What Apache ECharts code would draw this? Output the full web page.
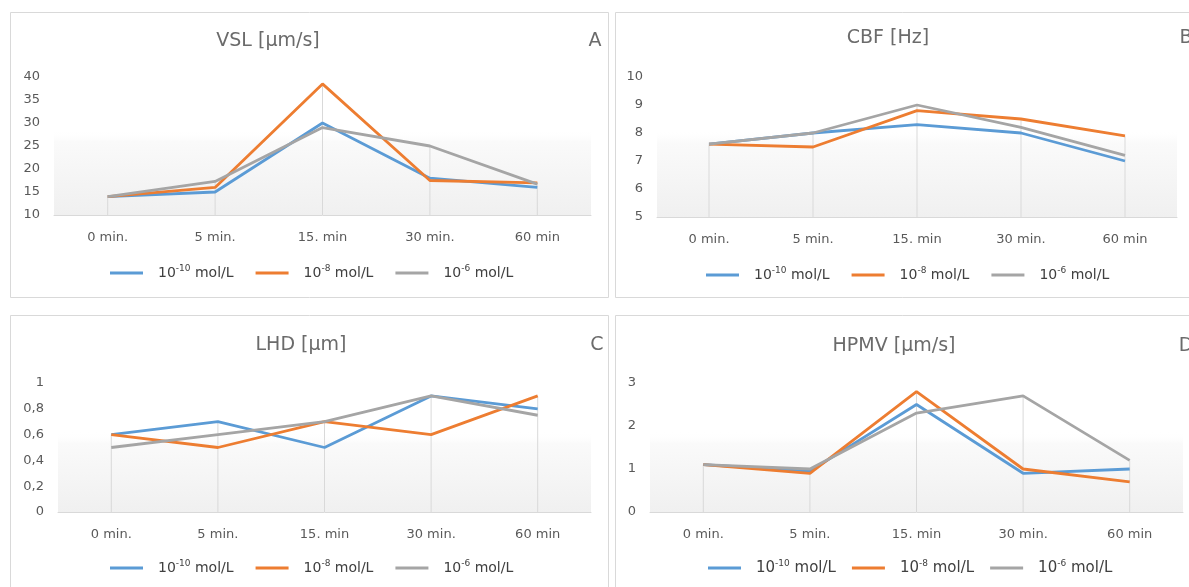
<!DOCTYPE html>
<html>
<head>
<meta charset="utf-8">
<script src="https://cdn.jsdelivr.net/npm/echarts@6/dist/echarts.min.js"></script>
<style>
  html, body { margin: 0; padding: 0; background: #ffffff; }
  #chart { width: 1189px; height: 587px; }
</style>
</head>
<body>
<div id="chart"></div>
<script>
// Sampling times shared by all four panels
const categories = ['0 min.', '5 min.', '15. min', '30 min.', '60 min'];
// Concentrations (the part after ^ is drawn as a superscript)
const seriesNames = ['10^-10 mol/L', '10^-8 mol/L', '10^-6 mol/L'];

// A: VSL [µm/s]
const vslLow  = [14, 15, 30, 18, 16];
const vslMid  = [14, 16, 38.5, 17.5, 17];
const vslHigh = [14, 17.3, 29, 25, 16.7];
const vslTicks = [10, 40, 5];

// B: CBF [Hz]
const cbfLow  = [7.6, 8.0, 8.3, 8.0, 7.0];
const cbfMid  = [7.6, 7.5, 8.8, 8.5, 7.9];
const cbfHigh = [7.6, 8.0, 9.0, 8.2, 7.2];
const cbfTicks = [5, 10, 1];

// C: LHD [µm]
const lhdLow  = [0.6, 0.7, 0.5, 0.9, 0.8];
const lhdMid  = [0.6, 0.5, 0.7, 0.6, 0.9];
const lhdHigh = [0.5, 0.6, 0.7, 0.9, 0.75];
const lhdTicks = [0, 1, 0.2];

// D: HPMV [µm/s]
const hpmvLow  = [1.1, 0.95, 2.5, 0.9, 1.0];
const hpmvMid  = [1.1, 0.9, 2.8, 1.0, 0.7];
const hpmvHigh = [1.1, 1.0, 2.3, 2.7, 1.2];
const hpmvTicks = [0, 3, 1];

const colors = ['#5b9bd5', '#ed7d31', '#a5a5a5'];
const FONT = 'DejaVu Sans';
const TEXT = '#595959';

const panels = [
  { title: 'VSL [µm/s]', letter: 'A', data: [vslLow, vslMid, vslHigh], ticks: vslTicks,
    box: [10.5, 12.5, 598, 285], grid: [54, 77, 537, 138], titleXY: [268, 41], letterXY: [595, 41],
    legendXY: [110, 264], legendFont: 14, itemGap: 22 },
  { title: 'CBF [Hz]', letter: 'B', data: [cbfLow, cbfMid, cbfHigh], ticks: cbfTicks,
    box: [615.5, 12.5, 590, 285], grid: [657, 77, 520, 140], titleXY: [888, 38], letterXY: [1186, 38],
    legendXY: [706, 266], legendFont: 14, itemGap: 22 },
  { title: 'LHD [µm]', letter: 'C', data: [lhdLow, lhdMid, lhdHigh], ticks: lhdTicks,
    box: [10.5, 315.5, 598, 290], grid: [58, 383, 533, 129], titleXY: [301, 345], letterXY: [597, 345],
    legendXY: [110, 559], legendFont: 14, itemGap: 22 },
  { title: 'HPMV [µm/s]', letter: 'D', data: [hpmvLow, hpmvMid, hpmvHigh], ticks: hpmvTicks,
    box: [615.5, 315.5, 590, 290], grid: [650, 383, 533, 129], titleXY: [894, 346], letterXY: [1186, 346],
    legendXY: [708, 559], legendFont: 15, itemGap: 16 }
];

const supFormatter = name => name.replace(/\^(\S+)/, '{s|$1}');
const decimalComma = v => String(Number(v.toFixed(2))).replace('.', ',');

const option = {
  animation: false,
  backgroundColor: '#ffffff',
  textStyle: { fontFamily: FONT },
  graphic: [],
  title: [],
  legend: [],
  grid: [],
  xAxis: [],
  yAxis: [],
  series: []
};

panels.forEach((p, i) => {
  // panel frame
  option.graphic.push({
    type: 'rect', silent: true, z: -10,
    shape: { x: p.box[0], y: p.box[1], width: p.box[2], height: p.box[3] },
    style: { fill: 'none', stroke: '#d9d9d9', lineWidth: 1 }
  });

  option.title.push({
    text: p.title, left: p.titleXY[0], top: p.titleXY[1], padding: 0,
    textAlign: 'center', textVerticalAlign: 'middle',
    textStyle: { fontFamily: FONT, fontSize: 19, fontWeight: 'normal', color: '#6b6b6b' }
  });
  option.title.push({
    text: p.letter, left: p.letterXY[0], top: p.letterXY[1], padding: 0,
    textAlign: 'center', textVerticalAlign: 'middle',
    textStyle: { fontFamily: FONT, fontSize: 19, fontWeight: 'normal', color: '#6b6b6b' }
  });

  option.legend.push({
    left: p.legendXY[0], top: p.legendXY[1], padding: 0,
    icon: 'rect', itemWidth: 33, itemHeight: 3, itemGap: p.itemGap,
    data: seriesNames, selectedMode: false,
    formatter: supFormatter,
    textStyle: {
      fontFamily: FONT, fontSize: p.legendFont, color: '#404040', padding: [0, 0, 0, 10],
      lineHeight: 18,
      rich: { s: { fontFamily: FONT, fontSize: Math.round(p.legendFont * 0.62), color: '#404040', verticalAlign: 'top', lineHeight: 18 } }
    }
  });

  // plot area: white upper part, soft grey band fading down to the axis
  option.grid.push({
    left: p.grid[0], top: p.grid[1], width: p.grid[2], height: p.grid[3],
    show: true, borderWidth: 0,
    backgroundColor: new echarts.graphic.LinearGradient(0, 0, 0, 1, [
      { offset: 0, color: 'rgba(255,255,255,0)' },
      { offset: 0.38, color: 'rgba(255,255,255,0)' },
      { offset: 0.47, color: 'rgba(250,250,250,1)' },
      { offset: 1, color: 'rgba(240,240,240,1)' }
    ])
  });

  option.xAxis.push({
    type: 'category', gridIndex: i, data: categories, boundaryGap: true,
    axisLine: { lineStyle: { color: '#d9d9d9', width: 1 } },
    axisTick: { show: false },
    splitLine: { show: false },
    axisLabel: { color: TEXT, fontSize: 13, fontFamily: FONT, margin: 16 }
  });

  option.yAxis.push({
    type: 'value', gridIndex: i, min: p.ticks[0], max: p.ticks[1], interval: p.ticks[2],
    axisLine: { show: false }, axisTick: { show: false }, splitLine: { show: false },
    axisLabel: { color: TEXT, fontSize: 13, fontFamily: FONT, margin: 14, formatter: decimalComma }
  });

  // drop lines from the highest value of each time point down to the axis
  const tops = categories.map((_, k) => Math.max(...p.data.map(arr => arr[k])));
  option.series.push({
    type: 'bar', name: 'drop', xAxisIndex: i, yAxisIndex: i, data: tops,
    barWidth: 1, silent: true, z: 1, clip: true,
    itemStyle: { color: '#d9d9d9' }
  });

  p.data.forEach((arr, s) => {
    option.series.push({
      type: 'line', name: seriesNames[s], xAxisIndex: i, yAxisIndex: i, data: arr,
      showSymbol: false, symbol: 'none', z: 3 + s,
      lineStyle: { color: colors[s], width: 2.8 },
      itemStyle: { color: colors[s] }
    });
  });
});

const chart = echarts.init(document.getElementById('chart'), null, { renderer: 'canvas' });
chart.setOption(option);
</script>
</body>
</html>
